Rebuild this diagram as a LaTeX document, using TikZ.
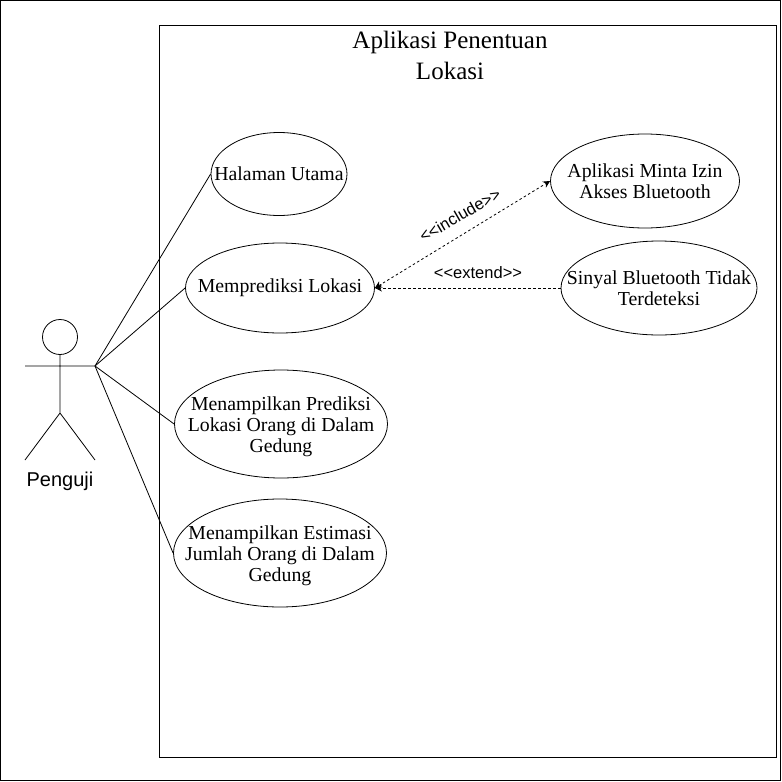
\documentclass[tikz,border=0pt]{standalone}
\usepackage{fontspec}
\setmainfont{Liberation Serif}
\setsansfont{Liberation Sans}
\usetikzlibrary{arrows.meta,shapes.geometric}
\newcommand{\pushdown}[1]{\rule{0pt}{#1}}
\begin{document}
\begin{tikzpicture}[x=1pt,y=-1pt,
  uc/.style={draw=black,ellipse,line width=0.8pt,inner xsep=-45pt,inner ysep=-22pt,align=center,font=\fontsize{19.8}{21}\selectfont},
  ln/.style={draw=black,line width=0.8pt},
  dep/.style={draw=black,line width=0.8pt,dash pattern=on 2.5pt off 2.5pt,{Stealth[length=7pt,width=7pt]}-{Stealth[length=7pt,width=7pt]}},
  ext/.style={draw=black,line width=0.8pt,dash pattern=on 2.5pt off 2.5pt,-{Stealth[length=7pt,width=7pt]}},
  lbl/.style={font=\sffamily\fontsize{16.5}{18}\selectfont,inner sep=0pt}]
\useasboundingbox (0,0) rectangle (782,782);
\fill[white] (0,0) rectangle (782,782);
\draw[line width=0.8pt] (0.5,0.5) rectangle (780.5,780.5);
\draw[line width=0.8pt] (159,25) rectangle (776,757);
\node[font=\fontsize{25}{31}\selectfont,align=center,inner sep=0pt] (title) at (450,55) {Aplikasi Penentuan\\Lokasi};
\node[uc,minimum width=136pt,minimum height=83pt] (h) at (279,174) {Halaman Utama};
\node[uc,minimum width=189pt,minimum height=90pt] (m) at (280,288) {Memprediksi Lokasi};
\node[uc,minimum width=213pt,minimum height=108pt] (p) at (281,424) {\pushdown{19pt}Menampilkan Prediksi\\Lokasi Orang di Dalam\\Gedung};
\node[uc,minimum width=213pt,minimum height=108pt] (e) at (280,553) {\pushdown{20pt}Menampilkan Estimasi\\Jumlah Orang di Dalam\\Gedung};
\node[uc,minimum width=189pt,minimum height=94pt] (a) at (645,181) {Aplikasi Minta Izin\\Akses Bluetooth};
\node[uc,minimum width=196pt,minimum height=94pt] (s) at (659,288) {Sinyal Bluetooth Tidak\\Terdeteksi};
\draw[line width=0.8pt] (60,337) circle (17.5);
\coordinate (hand) at (95,366);
\draw[ln] (60,354.5) -- (60,413) (25,366) -- (hand) (60,413) -- (25,460) (60,413) -- (95,460);
\node[lbl,font=\sffamily\fontsize{20}{22}\selectfont] (pg) at (60,481) {Penguji};
\draw[ln] (hand) -- (h.west);
\draw[ln] (hand) -- (m.west);
\draw[ln] (hand) -- (p.west);
\draw[ln] (hand) -- (e.west);
\draw[dep] (m.east) -- (a.west);
\draw[ext] (s.west) -- (m.east);
\node[lbl,rotate=30] (inc) at (460,215) {<{}<include>{}>};
\node[lbl] (ex) at (478,273) {<{}<extend>{}>};
\end{tikzpicture}
\end{document}
